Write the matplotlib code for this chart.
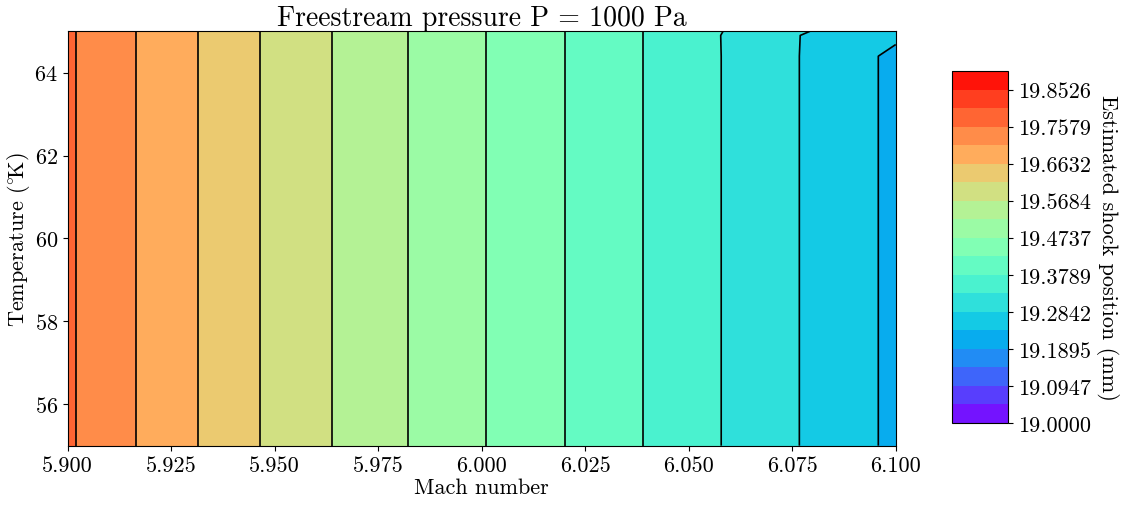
import numpy as np
import matplotlib
matplotlib.use('Agg')
import matplotlib.pyplot as plt

plt.rcParams['font.family'] = 'serif'
plt.rcParams['font.serif'] = ['cmr10']
plt.rcParams['mathtext.fontset'] = 'cm'
plt.rcParams['axes.formatter.use_mathtext'] = True

# Grid
mach = [5.900, 5.925, 5.950, 5.975, 6.000, 6.025, 6.050, 6.075, 6.100]
temperature = [55.0, 60.0, 64.4, 64.9, 65.0]

# estimated shock position (mm), one row per temperature
row_low = [19.7641, 19.6835, 19.6049, 19.5391, 19.4765, 19.4138, 19.3513, 19.2885, 19.2264]
row_649 = [19.7641, 19.6835, 19.6049, 19.5391, 19.4765, 19.4138, 19.3513, 19.2875, 19.2450]
row_650 = [19.7641, 19.6835, 19.6049, 19.5391, 19.4765, 19.4138, 19.3513, 19.2919, 19.2470]
shock = [row_low, row_low, row_low, row_649, row_650]

levels = np.linspace(19.0, 19.9, 20)

M, T = np.meshgrid(mach, temperature)
Z = np.array(shock)

fig = plt.figure(figsize=(11.23, 5.06), dpi=100)
ax = fig.add_axes([67.7 / 1123, 1 - 446.7 / 506, 828 / 1123, 414.4 / 506])
cax = fig.add_axes([952 / 1123, 1 - 424 / 506, 56 / 1123, 352 / 506])

cf = ax.contourf(M, T, Z, levels=levels, cmap='rainbow')
ax.contour(M, T, Z, levels=levels, colors='k', linewidths=1.2)

ax.set_xlim(5.9, 6.1)
ax.set_ylim(55, 65)
ax.set_xticks([5.900, 5.925, 5.950, 5.975, 6.000, 6.025, 6.050, 6.075, 6.100])
ax.set_xticklabels(['%.3f' % v for v in ax.get_xticks()])
ax.set_yticks([56, 58, 60, 62, 64])
ax.tick_params(labelsize=16)
ax.set_xlabel('Mach number', fontsize=16, labelpad=2)
ax.set_ylabel(r'Temperature $(^{\circ}\!\mathrm{K})$', fontsize=16, labelpad=2)
ax.set_title('Freestream pressure P = 1000 Pa', fontsize=20, pad=4)

cbar = fig.colorbar(cf, cax=cax)
cbar.set_ticks(levels[::2])
cbar.set_ticklabels(['%.4f' % v for v in levels[::2]])
cbar.ax.tick_params(labelsize=16)
cbar.set_label('Estimated shock position (mm)', fontsize=16, rotation=270, labelpad=20)

plt.savefig('out.png', dpi=100)
